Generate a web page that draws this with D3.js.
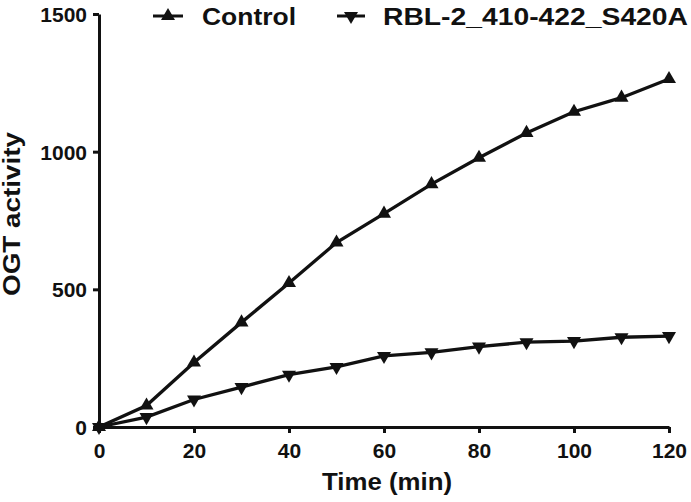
<!DOCTYPE html>
<html>
<head>
<meta charset="utf-8">
<script src="https://cdn.jsdelivr.net/npm/d3@7"></script>
<style>
  body { margin: 0; background: #fff; }
  svg text { font-family: "Liberation Sans", Arial, sans-serif; font-weight: bold; fill: #111; }
</style>
</head>
<body>
<svg id="chart" width="691" height="502"></svg>
<script>
// data
var times = [0, 10, 20, 30, 40, 50, 60, 70, 80, 90, 100, 110, 120];
var control = [0, 78, 234, 380, 523, 670, 775, 882, 978, 1068, 1145, 1196, 1264];
var mutant = [0, 36, 100, 145, 190, 218, 258, 271, 292, 308, 312, 326, 330];
var seriesNames = ["Control", "RBL-2_410-422_S420A"];
var xTicks = [0, 20, 40, 60, 80, 100, 120];
var yTicks = [0, 500, 1000, 1500];

var svg = d3.select("#chart");
var mLeft = 99, mRight = 669, mTop = 14, mBottom = 427;

var x = d3.scaleLinear().domain([0, 120]).range([mLeft, mRight]);
var y = d3.scaleLinear().domain([0, 1500]).range([mBottom, mTop]);

// axes
var xAxis = svg.append("g")
    .attr("transform", "translate(0," + mBottom + ")")
    .call(d3.axisBottom(x).tickValues(xTicks).tickSize(6).tickPadding(10).tickSizeOuter(0));
var yAxis = svg.append("g")
    .attr("transform", "translate(" + mLeft + ",0)")
    .call(d3.axisLeft(y).tickValues(yTicks).tickFormat(d3.format("d")).tickSize(6).tickPadding(6).tickSizeOuter(0));

[xAxis, yAxis].forEach(function (g) {
    g.select(".domain").attr("stroke", "#111").attr("stroke-width", 3);
    g.selectAll(".tick line").attr("stroke", "#111").attr("stroke-width", 3);
    g.selectAll(".tick text").style("font-size", "21px").attr("fill", "#111");
});
yAxis.selectAll(".tick text").attr("dy", "0.36em");

// axis titles
svg.append("text")
    .attr("x", (mLeft + mRight) / 2 + 3)
    .attr("y", 490)
    .attr("text-anchor", "middle")
    .attr("textLength", 130)
    .attr("lengthAdjust", "spacingAndGlyphs")
    .style("font-size", "24px")
    .text("Time (min)");

svg.append("text")
    .attr("transform", "translate(20,214) rotate(-90)")
    .attr("text-anchor", "middle")
    .attr("textLength", 164)
    .attr("lengthAdjust", "spacingAndGlyphs")
    .style("font-size", "24px")
    .text("OGT activity");

// lines and markers
var line = d3.line()
    .x(function (d) { return x(d[0]); })
    .y(function (d) { return y(d[1]); });

var tri = d3.symbol().type(d3.symbolTriangle).size(85);

var series = [
    { name: seriesNames[0], values: d3.zip(times, control), rot: 0 },
    { name: seriesNames[1], values: d3.zip(times, mutant), rot: 180 }
];

series.forEach(function (s) {
    svg.append("path")
        .datum(s.values)
        .attr("fill", "none")
        .attr("stroke", "#111")
        .attr("stroke-width", 3.3)
        .attr("d", line);

    svg.append("g").selectAll("path")
        .data(s.values)
        .enter().append("path")
        .attr("d", tri)
        .attr("fill", "#111")
        .attr("transform", function (d) {
            return "translate(" + x(d[0]) + "," + y(d[1]) + ") rotate(" + s.rot + ")";
        });
});

// legend
var legend = [
    { name: seriesNames[0], x1: 153, x2: 183, tx: 202, rot: 0, w: 94 },
    { name: seriesNames[1], x1: 337, x2: 365, tx: 383, rot: 180, w: 305 }
];
legend.forEach(function (l) {
    svg.append("line")
        .attr("x1", l.x1).attr("x2", l.x2)
        .attr("y1", 16).attr("y2", 16)
        .attr("stroke", "#111").attr("stroke-width", 3);
    svg.append("path")
        .attr("d", tri)
        .attr("fill", "#111")
        .attr("transform", "translate(" + ((l.x1 + l.x2) / 2) + ",16) rotate(" + l.rot + ")");
    svg.append("text")
        .attr("x", l.tx)
        .attr("y", 25)
        .attr("textLength", l.w)
        .attr("lengthAdjust", "spacingAndGlyphs")
        .style("font-size", "24px")
        .text(l.name);
});
</script>
</body>
</html>
